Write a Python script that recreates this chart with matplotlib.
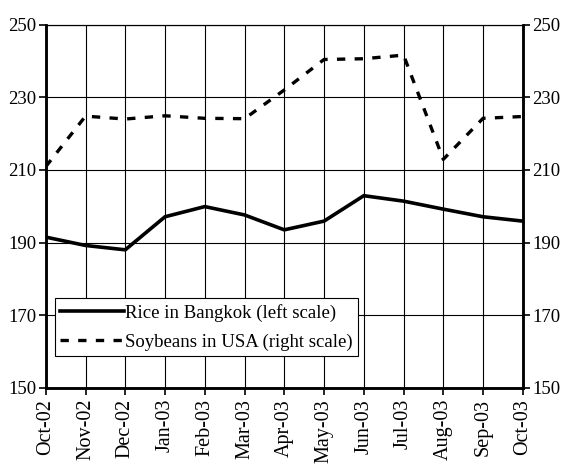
# Rice vs soybean prices, two y axes
import matplotlib.pyplot as plt

plt.rcParams['font.family'] = ['Liberation Serif', 'DejaVu Serif']

months = ['Oct-02', 'Nov-02', 'Dec-02', 'Jan-03', 'Feb-03', 'Mar-03', 'Apr-03',
          'May-03', 'Jun-03', 'Jul-03', 'Aug-03', 'Sep-03', 'Oct-03']

# values
rice = [191.5, 189.2, 188.0, 197.1, 199.9, 197.6, 193.5, 195.9, 202.9, 201.4, 199.2, 197.1, 195.9]
soybeans = [210.9, 224.8, 224.0, 224.9, 224.2, 224.1, 232.0, 240.4, 240.6, 241.6, 212.9, 224.2, 224.7]

yticks = [150, 170, 190, 210, 230, 250]

x = list(range(len(months)))

fig = plt.figure(figsize=(5.72, 4.73), dpi=100)
ax = fig.add_axes([0.080, 0.180, 0.834, 0.768])
ax2 = ax.twinx()

l1, = ax.plot(x, rice, color='black', lw=2.6, solid_joinstyle='miter',
              label='Rice in Bangkok (left scale)')
l2, = ax2.plot(x, soybeans, color='black', lw=2.4, dashes=(2.5, 2.8),
               label='Soybeans in USA (right scale)')

for a in (ax, ax2):
    a.set_ylim(150, 250)
    a.set_yticks(yticks)
    a.tick_params(axis='y', labelsize=13.5, length=5, width=1.2, direction='out', pad=2)
    a.spines['left'].set_linewidth(1.8)
    a.spines['right'].set_linewidth(1.8)
    a.spines['bottom'].set_linewidth(1.8)
    a.spines['top'].set_linewidth(0.8)

ax.set_xlim(0, 12)
ax.set_xticks(x)
ax.set_xticklabels(months, rotation=90, fontsize=14.5)
ax.tick_params(axis='x', length=5, width=1.2, direction='out', pad=3)

ax.grid(True, color='black', lw=0.8)
ax.set_axisbelow(True)

leg = ax.legend(handles=[l1, l2], loc='upper left', bbox_to_anchor=(0.019, 0.246),
                fontsize=13.5, frameon=True, fancybox=False, shadow=False,
                handlelength=3.4, handletextpad=0.05, borderpad=0.3,
                labelspacing=0.6, borderaxespad=0)
leg.get_frame().set_edgecolor('black')
leg.get_frame().set_linewidth(0.8)
leg.get_frame().set_alpha(1)
leg.remove()
ax2.add_artist(leg)

fig.savefig('out.png', dpi=100)
